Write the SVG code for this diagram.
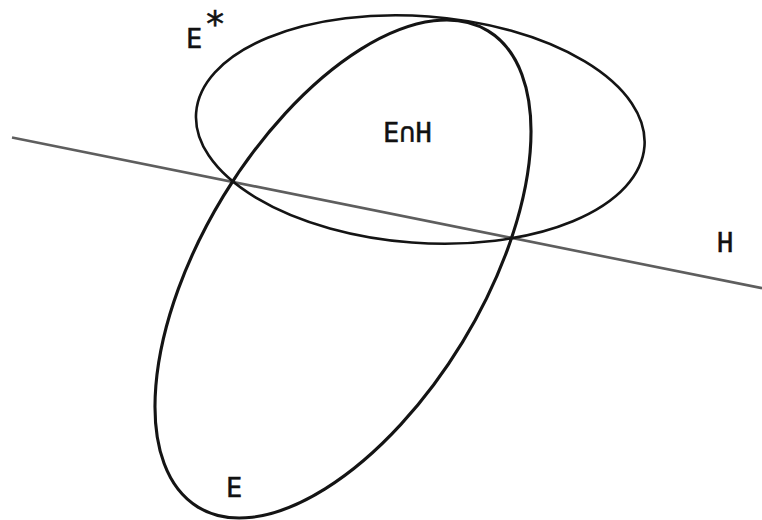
<svg xmlns="http://www.w3.org/2000/svg" width="762" height="520" viewBox="0 0 762 520">
<style>
.ell{fill:none;stroke:#141414;stroke-width:2.6}
.ellE{stroke-width:3.1}
.ln{fill:none;stroke:#5e5e5e;stroke-width:2.6}
.lbl{font-family:"DejaVu Sans Mono","Liberation Mono",monospace;font-size:27px;fill:#111;stroke:#111;stroke-width:0.5}
</style>
<rect width="762" height="520" fill="#fff"/>
<g id="connectors">
<line id="H-line" class="ln" x1="12" y1="137.6" x2="762" y2="288.2"/>
</g>
<g id="Estar">
<ellipse class="ell" cx="420.3" cy="129.5" rx="224.8" ry="113.3" transform="rotate(4.26 420.3 129.5)"/>
<text class="lbl" x="186" y="48">E<tspan font-size="36" dx="2" dy="-12">*</tspan></text>
</g>
<g id="E">
<ellipse class="ell ellE" cx="343" cy="269" rx="278.8" ry="140.1" transform="rotate(-58.66 343 269)"/>
<text class="lbl" x="226" y="497">E</text>
</g>
<g id="EnH">
<text class="lbl" x="383" y="142">E∩H</text>
</g>
<g id="H">
<text class="lbl" x="717" y="252">H</text>
</g>
</svg>
